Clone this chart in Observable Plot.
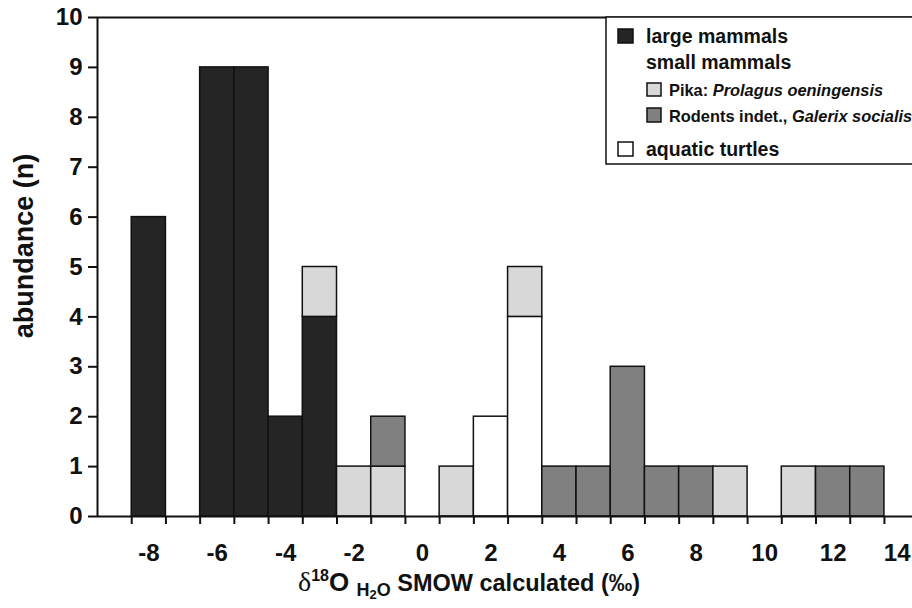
<!DOCTYPE html>
<html>
<head>
<meta charset="utf-8">
<script src="https://cdn.jsdelivr.net/npm/d3@7"></script>
<script src="https://cdn.jsdelivr.net/npm/@observablehq/plot@0.6"></script>
<style>
  html, body { margin: 0; padding: 0; background: #fff; }
  #chart svg { display: block; }
</style>
</head>
<body>
<div id="chart"></div>
<script>
// Bin centres (δ18O, ‰), bins are 1‰ wide
const bins = [-8, -7, -6, -5, -4, -3, -2, -1, 0, 1, 2, 3, 4, 5, 6, 7, 8, 9, 10, 11, 12, 13];
// Counts per group in each bin
const largeMammals = [6, 0, 9, 9, 2, 4, 0, 0, 0, 0, 0, 0, 0, 0, 0, 0, 0, 0, 0, 0, 0, 0];
const turtles      = [0, 0, 0, 0, 0, 0, 0, 0, 0, 0, 2, 4, 0, 0, 0, 0, 0, 0, 0, 0, 0, 0];
const pika         = [0, 0, 0, 0, 0, 1, 1, 1, 0, 1, 0, 1, 0, 0, 0, 0, 0, 1, 0, 1, 0, 0];
const rodents      = [0, 0, 0, 0, 0, 0, 0, 1, 0, 0, 0, 0, 1, 1, 3, 1, 1, 0, 0, 0, 1, 1];

const seriesNames = ["large mammals", "aquatic turtles", "Pika", "Rodents"];
const seriesColors = ["#252525", "#ffffff", "#d8d8d8", "#808080"];

const xLabelTicks = [-8, -6, -4, -2, 0, 2, 4, 6, 8, 10, 12];
const xLastTick = [14];
const yTicks = [0, 1, 2, 3, 4, 5, 6, 7, 8, 9, 10];

const seriesValues = [largeMammals, turtles, pika, rodents];
const rows = [];
bins.forEach((b, i) => {
  seriesNames.forEach((s, j) => {
    const n = seriesValues[j][i];
    if (n > 0) rows.push({bin: b, series: s, n});
  });
});
const binEdges = d3.range(bins[0] - 0.5, bins[bins.length - 1] + 0.6, 1);

const font = "'Liberation Sans', Arial, Helvetica, sans-serif";
const fmt = d => d < 0 ? "-" + Math.abs(d) : String(d);

const chart = Plot.plot({
  width: 912,
  height: 608,
  marginLeft: 97,
  marginRight: 0,
  marginTop: 17,
  marginBottom: 92,
  style: {fontFamily: font, fontSize: "24px", fontWeight: "bold", color: "#111", background: "#fff"},
  x: {domain: [-9.5, 14.32], axis: null},
  y: {domain: [0, 10], axis: null},
  color: {domain: seriesNames, range: seriesColors},
  marks: [
    Plot.rectY(rows, {
      x1: d => d.bin - 0.5,
      x2: d => d.bin + 0.5,
      y: "n",
      fill: "series",
      order: seriesNames,
      stroke: "#111",
      strokeWidth: 1.5
    }),
    Plot.axisY({ticks: yTicks, tickSize: 9, tickPadding: 6, strokeWidth: 2, fontSize: 24, fontWeight: "bold", label: null}),
    Plot.axisX({ticks: binEdges, tickSize: 8, strokeWidth: 2, tickFormat: () => "", label: null}),
    Plot.axisX({ticks: xLabelTicks, tickSize: 0, tickPadding: 27, fontSize: 24, fontWeight: "bold", tickFormat: fmt, label: null}),
    Plot.axisX({ticks: xLastTick, tickSize: 0, tickPadding: 27, fontSize: 24, fontWeight: "bold", textAnchor: "end", dx: 9, tickFormat: fmt, label: null}),
    Plot.ruleY([0], {stroke: "#111", strokeWidth: 2}),
    Plot.ruleY([10], {stroke: "#111", strokeWidth: 2}),
    Plot.ruleX([-9.5], {y1: 0, y2: 10, stroke: "#111", strokeWidth: 2})
  ]
});

document.getElementById("chart").appendChild(chart);

const svg = d3.select(chart);

// Y axis title
svg.append("text")
  .attr("transform", "translate(33,246) rotate(-90)")
  .attr("text-anchor", "middle")
  .attr("font-family", font)
  .attr("font-size", 27)
  .attr("font-weight", "bold")
  .attr("fill", "#111")
  .text("abundance (n)");

// X axis title with super/subscripts
const xt = svg.append("text")
  .attr("x", 298).attr("y", 591)
  .attr("text-anchor", "start")
  .attr("font-family", font)
  .attr("font-weight", "bold")
  .attr("fill", "#111");
xt.append("tspan").attr("font-family", "'Liberation Serif', 'Times New Roman', serif").attr("font-weight", "normal").attr("font-size", 28).text("δ");
xt.append("tspan").attr("font-size", 16).attr("dy", -10).text("18");
xt.append("tspan").attr("font-size", 26).attr("dy", 10).text("O ");
xt.append("tspan").attr("font-size", 18).attr("dy", 5).text("H");
xt.append("tspan").attr("font-size", 13).attr("dy", 3).text("2");
xt.append("tspan").attr("font-size", 18).attr("dy", -3).text("O");
xt.append("tspan").attr("font-size", 23.5).attr("dy", -5).text(" SMOW calculated (‰)");

// Legend box
const lg = svg.append("g").attr("font-family", font).attr("font-weight", "bold").attr("fill", "#111").attr("text-anchor", "start");
lg.append("rect").attr("x", 606).attr("y", 17).attr("width", 320).attr("height", 147)
  .attr("fill", "#fff").attr("stroke", "#111").attr("stroke-width", 1.5);
const legendItems = [
  {sq: [618, 29, 15, 14], fill: seriesColors[0], x: 646, y: 43, size: 19.5, parts: [["large mammals", "normal"]]},
  {sq: null, x: 646, y: 69, size: 19.5, parts: [["small mammals", "normal"]]},
  {sq: [647, 83, 14, 13], fill: seriesColors[2], x: 669, y: 96, size: 16.4, parts: [["Pika: ", "normal"], ["Prolagus oeningensis", "italic"]]},
  {sq: [647, 108, 14, 14], fill: seriesColors[3], x: 669, y: 122, size: 16.4, parts: [["Rodents indet., ", "normal"], ["Galerix socialis", "italic"]]},
  {sq: [618, 142, 15, 14], fill: seriesColors[1], x: 646, y: 156, size: 19.5, parts: [["aquatic turtles", "normal"]]}
];
legendItems.forEach(it => {
  if (it.sq) {
    lg.append("rect").attr("x", it.sq[0]).attr("y", it.sq[1]).attr("width", it.sq[2]).attr("height", it.sq[3])
      .attr("fill", it.fill).attr("stroke", "#111").attr("stroke-width", 1.5);
  }
  const t = lg.append("text").attr("x", it.x).attr("y", it.y).attr("font-size", it.size).attr("text-anchor", "start");
  it.parts.forEach(([s, st]) => t.append("tspan").attr("font-style", st).text(s));
});
</script>
</body>
</html>
